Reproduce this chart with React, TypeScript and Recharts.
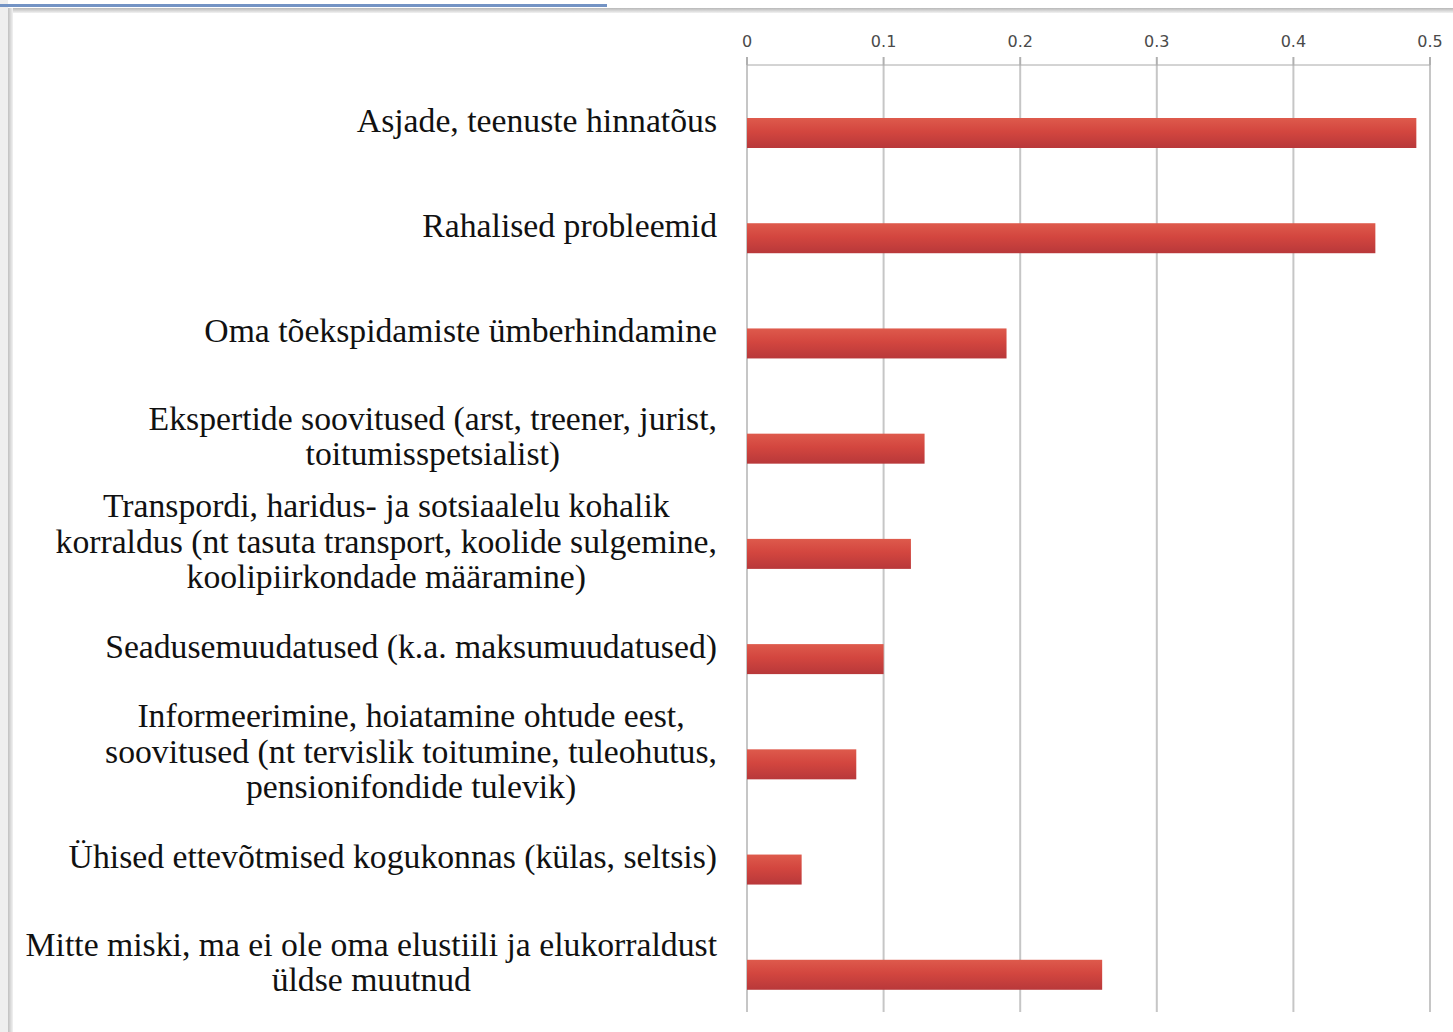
import { BarChart, Bar, XAxis, YAxis, CartesianGrid } from 'recharts';

const categories = [
  'Asjade, teenuste hinnatõus',
  'Rahalised probleemid',
  'Oma tõekspidamiste ümberhindamine',
  'Ekspertide soovitused (arst, treener, jurist,\ntoitumisspetsialist)',
  'Transpordi, haridus- ja sotsiaalelu kohalik\nkorraldus (nt tasuta transport, koolide sulgemine,\nkoolipiirkondade määramine)',
  'Seadusemuudatused (k.a. maksumuudatused)',
  'Informeerimine, hoiatamine ohtude eest,\nsoovitused (nt tervislik toitumine, tuleohutus,\npensionifondide tulevik)',
  'Ühised ettevõtmised kogukonnas (külas, seltsis)',
  'Mitte miski, ma ei ole oma elustiili ja elukorraldust\nüldse muutnud',
];

const shares = [0.49, 0.46, 0.19, 0.13, 0.12, 0.1, 0.08, 0.04, 0.26];

const xTicks = [0, 0.1, 0.2, 0.3, 0.4, 0.5];
const edgeTicks = [0, 1, 2, 3, 4, 5, 6, 7, 8, 9];

const rows = categories.map((label, i) => ({ label, value: shares[i] }));

const LABEL_FONT = '33.7px "Liberation Serif"';
const LINE_H = 35.5;

let ctx: CanvasRenderingContext2D | null = null;
function measure(text: string) {
  if (!ctx) ctx = document.createElement('canvas').getContext('2d');
  if (!ctx) return text.length * 14;
  ctx.font = LABEL_FONT;
  return ctx.measureText(text).width;
}

// labels: block right-aligned, lines centered inside the block
function CategoryTick(props: any) {
  const { x, y, payload } = props;
  const lines = String(payload.value).split('\n');
  const blockW = Math.max(...lines.map(measure));
  const cx = x - blockW / 2;
  return (
    <g>
      {lines.map((line, i) => (
        <text
          key={i}
          x={cx}
          y={y + 14 + (i - (lines.length - 1) / 2) * LINE_H}
          textAnchor="middle"
          fill="#111"
          style={{ font: LABEL_FONT }}
        >
          {line}
        </text>
      ))}
    </g>
  );
}

// excel-style bar sitting in the lower half of its band
function OffsetBar(props: any) {
  const { x, y, width, height } = props;
  if (!width) return null;
  return <rect x={x} y={y + height / 2} width={width} height={height} fill="url(#barFill)" />;
}

export default function App() {
  return (
    <div style={{ position: 'absolute', left: 0, top: 0, width: 1453, height: 1032, background: '#fff', overflow: 'hidden' }}>
      <div style={{ position: 'absolute', left: 0, top: 0, width: 8, height: 1032, background: '#efefef' }} />
      <div style={{ position: 'absolute', left: 0, top: 4, width: 607, height: 3, background: '#7393c4' }} />
      <div style={{ position: 'absolute', left: 8, top: 8, right: 0, height: 5, background: 'linear-gradient(#b8b8b8, #f2f2f2)' }} />
      <div style={{ position: 'absolute', left: 8, top: 8, width: 5, bottom: 0, background: 'linear-gradient(90deg, #c0c0c0, #f2f2f2)' }} />
      <div style={{ position: 'absolute', left: 0, top: 0 }}>
        <BarChart
          layout="vertical"
          width={1453}
          height={1032}
          data={rows}
          margin={{ top: 25, right: 23, bottom: 20, left: 0 }}
        >
          <defs>
            <linearGradient id="barFill" x1="0" y1="0" x2="0" y2="1">
              <stop offset="0%" stopColor="#de5a4c" />
              <stop offset="45%" stopColor="#d3463f" />
              <stop offset="100%" stopColor="#b8383a" />
            </linearGradient>
          </defs>
          <CartesianGrid horizontal={false} stroke="#c6c6c6" strokeWidth={2} />
          <XAxis
            type="number"
            orientation="top"
            domain={[0, 0.5]}
            ticks={xTicks}
            height={40}
            tickSize={8}
            tickMargin={10}
            axisLine={{ stroke: '#a8a8a8' }}
            tickLine={{ stroke: '#b0b0b0', strokeWidth: 2 }}
            tick={{ fill: '#4a4a4a', fontSize: 16, fontFamily: 'DejaVu Sans' }}
          />
          <YAxis
            yAxisId="edges"
            type="number"
            domain={[0, 9]}
            ticks={edgeTicks}
            width={0}
            tickSize={8}
            axisLine={{ stroke: '#b4b4b4', strokeWidth: 2 }}
            tickLine={{ stroke: '#a0a0a0' }}
            tick={() => <g />}
          />
          <YAxis
            yAxisId="cat"
            type="category"
            dataKey="label"
            width={747}
            axisLine={false}
            tickLine={false}
            tickSize={0}
            tickMargin={30}
            interval={0}
            tick={<CategoryTick />}
          />
          <Bar yAxisId="cat" dataKey="value" barSize={30} shape={<OffsetBar />} isAnimationActive={false} />
        </BarChart>
      </div>
    </div>
  );
}
